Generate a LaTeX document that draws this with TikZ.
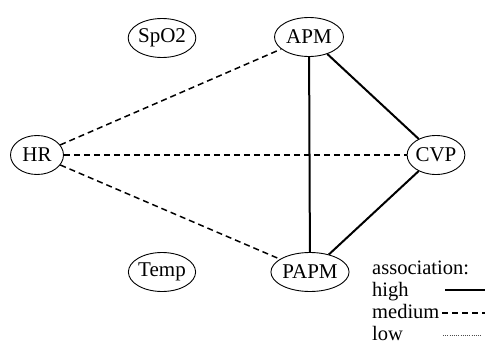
\documentclass[tikz,border=0pt]{standalone}
\usepackage{fontspec}
\setmainfont{Liberation Serif}
\usetikzlibrary{shapes.geometric}
\begin{document}
\begin{tikzpicture}[x=1pt,y=-1pt,
  var/.style={draw,ellipse,line width=0.9pt,inner sep=0pt,minimum height=39pt,font=\fontsize{21}{23}\selectfont},
  high/.style={line width=2pt},
  med/.style={line width=1.5pt,dash pattern=on 6pt off 4pt},
  low/.style={line width=0.7pt,black!70,dash pattern=on 0.8pt off 1.4pt},
  lbl/.style={anchor=base west,inner sep=0pt,font=\fontsize{20.5}{22}\selectfont}]
\useasboundingbox (0,0) rectangle (485,348);
\node[var,minimum width=66pt] (spo2) at (162,38) {SpO2};
\node[var,minimum width=69pt] (apm) at (309,37) {APM};
\node[var,minimum width=53pt] (hr) at (37,155) {HR};
\node[var,minimum width=57pt] (cvp) at (436,155) {CVP};
\node[var,minimum width=66pt] (temp) at (162,272) {Temp};
\node[var,minimum width=72pt] (papm) at (310,272) {PAPM};
\draw[med] (hr) -- (apm);
\draw[med] (hr) -- (cvp);
\draw[med] (hr) -- (papm);
\draw[high] (apm) -- (cvp);
\draw[high] (apm) -- (papm);
\draw[high] (cvp) -- (papm);
\node[lbl] (lassoc) at (372,274) {association:};
\node[lbl] (lhigh) at (372,296.5) {high};
\node[lbl] (lmed) at (372,318.5) {medium};
\node[lbl] (llow) at (372,340) {low};
\coordinate (h1) at (445,290);
\coordinate (h2) at (485,290);
\coordinate (m1) at (442,313);
\coordinate (m2) at (485,313);
\coordinate (l1) at (443,335);
\coordinate (l2) at (481,335);
\draw[high] (h1) -- (h2);
\draw[med] (m1) -- (m2);
\draw[low] (l1) -- (l2);
\end{tikzpicture}
\end{document}
